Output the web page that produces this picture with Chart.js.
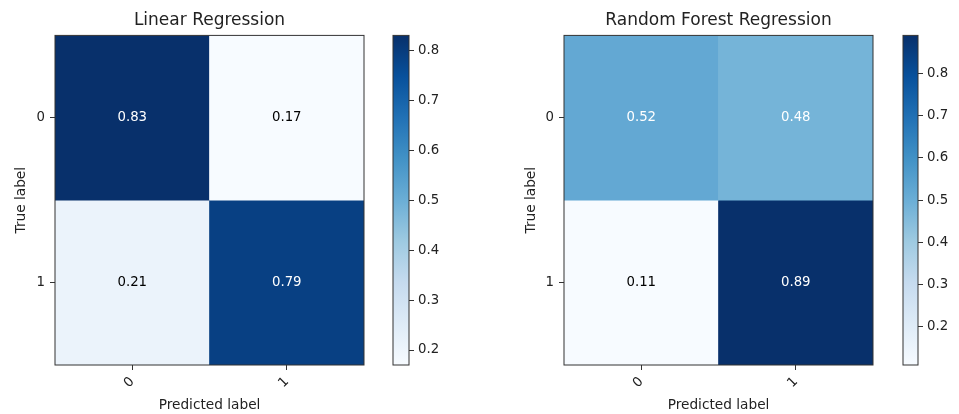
<!DOCTYPE html>
<html>
<head>
<meta charset="utf-8">
<script src="https://cdn.jsdelivr.net/npm/chart.js@4/dist/chart.umd.min.js"></script>
<style>
  html, body { margin: 0; padding: 0; background: #fff; }
  #wrap { position: relative; width: 959px; height: 414px; overflow: hidden; }
  canvas { position: absolute; top: 0; }
</style>
</head>
<body>
<div id="wrap">
  <canvas id="lrMatrix" width="380" height="414" style="left:0px"></canvas>
  <canvas id="lrBar" width="70" height="414" style="left:380px"></canvas>
  <canvas id="rfMatrix" width="380" height="414" style="left:510px"></canvas>
  <canvas id="rfBar" width="69" height="414" style="left:890px"></canvas>
</div>
<script>
// Class labels on both axes
const predictedLabels = ['0', '1'];
const trueLabels = ['0', '1'];

// Normalized confusion matrices (rows = true label, columns = predicted label)
const linearMatrix = [
  [0.83, 0.17],
  [0.21, 0.79]
];
const forestMatrix = [
  [0.52, 0.48],
  [0.11, 0.89]
];

// Colorbar tick values
const linearBarTicks = [0.2, 0.3, 0.4, 0.5, 0.6, 0.7, 0.8];
const forestBarTicks = [0.2, 0.3, 0.4, 0.5, 0.6, 0.7, 0.8];

const linearTitle = 'Linear Regression';
const forestTitle = 'Random Forest Regression';

// Blues colormap anchor colours
const BLUES = ['#f7fbff', '#deebf7', '#c6dbef', '#9ecae1', '#6baed6',
               '#4292c6', '#2171b5', '#08519c', '#08306b'];

Chart.defaults.font.family = "'DejaVu Sans', sans-serif";
Chart.defaults.color = '#222';
const INK = '#333';
const TICK_FONT = { size: 13.3 };
const LABEL_FONT = { size: 13.7 };

function hexToRgb(h) {
  const n = parseInt(h.slice(1), 16);
  return [(n >> 16) & 255, (n >> 8) & 255, n & 255];
}
function blues(t) {
  t = Math.min(1, Math.max(0, t));
  const pos = t * (BLUES.length - 1);
  const i = Math.min(BLUES.length - 2, Math.floor(pos));
  const f = pos - i;
  const a = hexToRgb(BLUES[i]), b = hexToRgb(BLUES[i + 1]);
  const c = a.map((v, k) => Math.round(v + (b[k] - v) * f));
  return `rgb(${c[0]},${c[1]},${c[2]})`;
}

// Outline around the plotting area
const framePlugin = {
  id: 'frame',
  afterDatasetsDraw(chart) {
    const a = chart.chartArea;
    const ctx = chart.ctx;
    ctx.save();
    ctx.strokeStyle = INK;
    ctx.lineWidth = 1;
    ctx.strokeRect(a.left, a.top, a.right - a.left, a.bottom - a.top);
    ctx.restore();
  }
};

// Value written in the middle of each cell
const cellTextPlugin = {
  id: 'cellText',
  afterDatasetsDraw(chart, args, opts) {
    const ctx = chart.ctx;
    const m = opts.matrix;
    const thresh = Math.max(...m.flat()) / 2;
    ctx.save();
    ctx.font = "13.3px 'DejaVu Sans', sans-serif";
    ctx.textAlign = 'center';
    ctx.textBaseline = 'middle';
    chart.data.datasets.forEach((ds, r) => {
      chart.getDatasetMeta(r).data.forEach((el, c) => {
        const v = m[r][c];
        ctx.fillStyle = v > thresh ? '#ffffff' : '#000000';
        ctx.fillText(v.toFixed(2), el.x, (el.y + el.base) / 2);
      });
    });
    ctx.restore();
  }
};

function matrixChart(id, title, matrix, yAxisWidth, rightPad) {
  const lo = Math.min(...matrix.flat()), hi = Math.max(...matrix.flat());
  const datasets = trueLabels.map((lab, r) => ({
    label: lab,
    data: predictedLabels.map(() => [r - 0.5, r + 0.5]),
    backgroundColor: matrix[r].map(v => blues((v - lo) / (hi - lo))),
    borderWidth: 0,
    barPercentage: 1,
    categoryPercentage: 1,
    grouped: false
  }));
  return new Chart(document.getElementById(id), {
    type: 'bar',
    data: { labels: predictedLabels, datasets },
    plugins: [framePlugin, cellTextPlugin],
    options: {
      responsive: false,
      animation: false,
      events: [],
      layout: { padding: { left: 0, right: rightPad, top: 0, bottom: 0 } },
      plugins: {
        legend: { display: false },
        tooltip: { enabled: false },
        title: {
          display: true, text: title, color: '#222', fullSize: false,
          font: { size: 17, weight: 'normal' },
          padding: { top: 10, bottom: 5 }
        },
        cellText: { matrix }
      },
      scales: {
        x: {
          type: 'category',
          offset: true,
          grid: { offset: false, drawOnChartArea: false, drawTicks: true, tickLength: 5, color: INK },
          border: { display: false },
          ticks: { font: TICK_FONT, color: '#222', minRotation: 45, maxRotation: 45, autoSkip: false, padding: 4 },
          title: { display: true, text: 'Predicted label', font: LABEL_FONT, color: '#222', padding: { top: 1, bottom: 0 } },
          afterFit(s) { s.height = 49; }
        },
        y: {
          type: 'linear',
          reverse: true,
          min: -0.5,
          max: trueLabels.length - 0.5,
          afterBuildTicks(s) { s.ticks = trueLabels.map((_, i) => ({ value: i })); },
          grid: { drawOnChartArea: false, drawTicks: true, tickLength: 5, color: INK },
          border: { display: false },
          ticks: { font: TICK_FONT, color: '#222', padding: 5, callback: v => trueLabels[v] },
          title: { display: true, text: 'True label', font: LABEL_FONT, color: '#222', padding: { top: 13, bottom: 0 } },
          afterFit(s) { s.width = yAxisWidth; }
        }
      }
    }
  });
}

function colorbarChart(id, matrix, tickValues, leftPad, axisWidth, topPad) {
  const lo = Math.min(...matrix.flat()), hi = Math.max(...matrix.flat());
  return new Chart(document.getElementById(id), {
    type: 'bar',
    data: {
      labels: [''],
      datasets: [{
        data: [[lo, hi]],
        borderWidth: 0,
        barPercentage: 1,
        categoryPercentage: 1,
        backgroundColor(c) {
          const a = c.chart.chartArea;
          if (!a) return BLUES[0];
          const g = c.chart.ctx.createLinearGradient(0, a.bottom, 0, a.top);
          BLUES.forEach((col, i) => g.addColorStop(i / (BLUES.length - 1), col));
          return g;
        }
      }]
    },
    plugins: [framePlugin],
    options: {
      responsive: false,
      animation: false,
      events: [],
      layout: { padding: { left: leftPad, right: 0, top: topPad, bottom: 49 } },
      plugins: { legend: { display: false }, tooltip: { enabled: false } },
      scales: {
        x: { display: false, offset: true },
        y: {
          position: 'right',
          min: lo,
          max: hi,
          afterBuildTicks(s) { s.ticks = tickValues.map(v => ({ value: v })); },
          grid: { drawOnChartArea: false, drawTicks: true, tickLength: 5, color: INK },
          border: { display: false },
          ticks: { font: TICK_FONT, color: '#222', padding: 4, callback: v => v.toFixed(1) },
          afterFit(s) { s.width = axisWidth; }
        }
      }
    }
  });
}

const lr = matrixChart('lrMatrix', linearTitle, linearMatrix, 55, 16);
colorbarChart('lrBar', linearMatrix, linearBarTicks, 13, 41, lr.chartArea.top);
const rf = matrixChart('rfMatrix', forestTitle, forestMatrix, 54, 17);
colorbarChart('rfBar', forestMatrix, forestBarTicks, 13, 41, rf.chartArea.top);
</script>
</body>
</html>
